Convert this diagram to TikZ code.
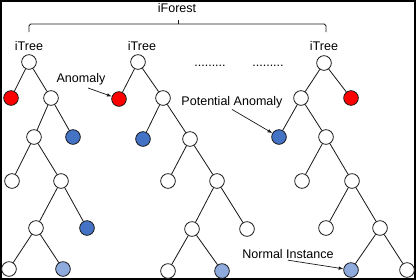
\documentclass[tikz,border=0pt]{standalone}
\usepackage{fontspec}
\setmainfont{Liberation Sans}
\usetikzlibrary{arrows.meta}
\definecolor{cred}{HTML}{FF0000}
\definecolor{cblue}{HTML}{4472C4}
\definecolor{clight}{HTML}{8FAADC}
\definecolor{cedge}{HTML}{1A1A1A}
\tikzset{
  every picture/.style={font=\fontsize{10.7}{13}\selectfont, line width=0.7pt},
  leaf/.style={circle, draw=cedge, fill=#1, minimum size=0.44cm, inner sep=0pt},
  leaf/.default=white,
  branch/.style={draw=cedge, line width=0.7pt},
  pointer/.style={-{Latex[length=1.4mm, width=1.1mm]}, draw=cedge, line width=0.6pt},
  label/.style={inner sep=1pt},
}
\begin{document}
\begin{tikzpicture}[x=0.03cm, y=-0.03cm]
  \useasboundingbox (0,0) rectangle (416,280);
  \draw[line width=1.3pt] (1,1) rectangle (415,279);
  % forest brace
  \node[label] (forest) at (177,8) {iForest};
  \draw[branch, rounded corners=1.5pt] (29,32) -- (29,24) -- (326,24) -- (326,32);
  \coordinate (tick) at (178,24);
  \draw[branch] (tick) -- ++(0,-4);
  % tree titles and dots
  \node[label] (titlea) at (29,46) {iTree};
  \node[label] (titleb) at (142,46) {iTree};
  \node[label] (titlec) at (324,46) {iTree};
  \node[label, anchor=base] (dotsa) at (210,66) {.........};
  \node[label, anchor=base] (dotsb) at (268,66) {.........};
  % first tree
  \node[leaf] (a1) at (29,62) {};
  \node[leaf=cred] (a2) at (11,98) {};
  \node[leaf] (a3) at (51,98) {};
  \node[leaf] (a4) at (34,137) {};
  \node[leaf=cblue] (a5) at (73,137) {};
  \node[leaf] (a6) at (12,181) {};
  \node[leaf] (a7) at (61,181) {};
  \node[leaf] (a8) at (36,228) {};
  \node[leaf=cblue] (a9) at (87,228) {};
  \node[leaf] (a10) at (9,269) {};
  \node[leaf=clight] (a11) at (63,269) {};
  % second tree
  \node[leaf] (b1) at (138,62) {};
  \node[leaf=cred] (b2) at (119,99) {};
  \node[leaf] (b3) at (163,98) {};
  \node[leaf=cblue] (b4) at (143,139) {};
  \node[leaf] (b5) at (190,139) {};
  \node[leaf] (b6) at (168,181) {};
  \node[leaf] (b7) at (217,181) {};
  \node[leaf] (b8) at (192,229) {};
  \node[leaf] (b9) at (247,229) {};
  \node[leaf] (b10) at (168,271) {};
  \node[leaf=clight] (b11) at (222,271) {};
  % third tree
  \node[leaf] (c1) at (324,63) {};
  \node[leaf] (c2) at (301,98) {};
  \node[leaf=cred] (c3) at (351,98) {};
  \node[leaf=cblue] (c4) at (279,137) {};
  \node[leaf] (c5) at (326,137) {};
  \node[leaf] (c6) at (302,181) {};
  \node[leaf] (c7) at (352,181) {};
  \node[leaf] (c8) at (326,228) {};
  \node[leaf] (c9) at (380,228) {};
  \node[leaf=clight] (c10) at (351,270) {};
  \node[leaf] (c11) at (407,270) {};
  \foreach \u/\v in {a1/a2, a1/a3, a3/a4, a3/a5, a4/a6, a4/a7, a7/a8, a7/a9, a8/a10, a8/a11,
                     b1/b2, b1/b3, b3/b4, b3/b5, b5/b6, b5/b7, b7/b8, b7/b9, b8/b10, b8/b11,
                     c1/c2, c1/c3, c2/c4, c2/c5, c5/c6, c5/c7, c7/c8, c7/c9, c9/c10, c9/c11}
    \draw[branch] (\u) -- (\v);
  % callouts
  \node[label] (anomaly) at (81,79) {Anomaly};
  \coordinate (anomalytail) at (88,88);
  \draw[pointer] (anomalytail) -- (b2);
  \node[label] (potential) at (232,102) {Potential Anomaly};
  \draw[pointer] (potential.south) -- (c4);
  \node[label] (normal) at (288,254) {Normal Instance};
  \draw[pointer] (normal.south) -- (c10);
\end{tikzpicture}
\end{document}
